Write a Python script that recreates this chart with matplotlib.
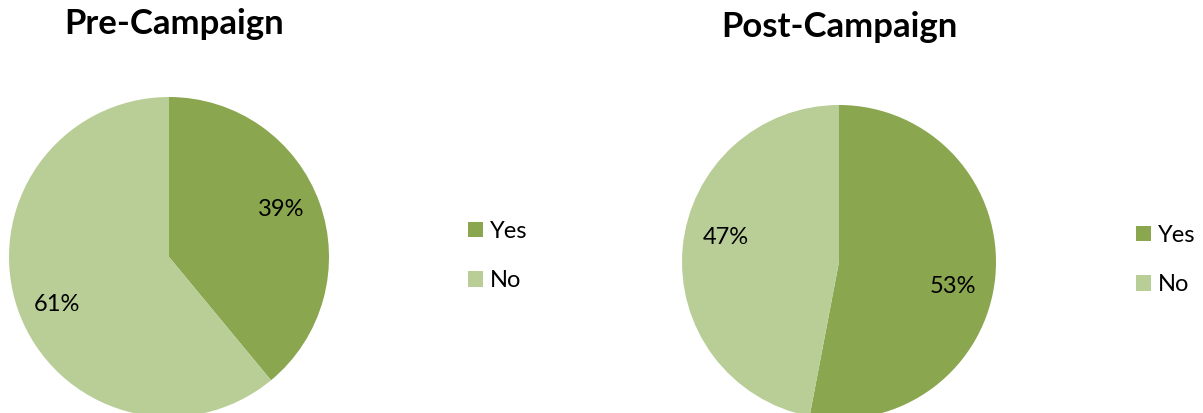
import matplotlib
matplotlib.use("Agg")
import matplotlib.pyplot as plt
import numpy as np

# ---- data ----
categories = ["Yes", "No"]
pre_values = [39, 61]
post_values = [53, 47]
titles = ["Pre-Campaign", "Post-Campaign"]

colors = ["#8AA64F", "#B9CE97"]

W, H = 1203, 413
plt.rcParams["font.family"] = ["Lato", "DejaVu Sans"]

fig = plt.figure(figsize=(W / 100, H / 100), dpi=100)
fig.patch.set_facecolor("white")


def px_axes(cx, cy, r):
    return fig.add_axes([(cx - r) / W, (H - (cy + r)) / H, 2 * r / W, 2 * r / H])


def draw(values, cx, cy, r, title, tx, ty, lx, ly, dist, shift):
    ax = px_axes(cx, cy, r)
    wedges, _, autotexts = ax.pie(
        values, colors=colors, startangle=90, counterclock=False,
        autopct="%1.0f%%", pctdistance=dist, radius=1,
        wedgeprops=dict(linewidth=0, edgecolor="none"),
        textprops=dict(fontsize=17, color="black"),
    )
    for w, t in zip(wedges, autotexts):
        ang = np.deg2rad((w.theta1 + w.theta2) / 2 + shift)
        t.set_position((dist * np.cos(ang), dist * np.sin(ang)))
    ax.set_xlim(-1, 1)
    ax.set_ylim(-1, 1)
    ax.set_aspect("auto")
    ax.axis("off")
    fig.text(tx / W, 1 - ty / H, title, ha="center", va="baseline",
             fontsize=25, fontweight="bold")
    fig.legend(wedges, categories, loc="center left",
               bbox_to_anchor=(lx / W, 1 - ly / H), bbox_transform=fig.transFigure,
               frameon=False, fontsize=17, handlelength=0.63, handleheight=0.63,
               handletextpad=0.3, labelspacing=1.21, borderpad=0, borderaxespad=0)


draw(pre_values, 169, 257, 160, titles[0], 174.5, 34, 468, 256, 0.76, 3.2)
draw(post_values, 839, 262, 157, titles[1], 839.5, 37, 1136, 260, 0.74, -7.0)

fig.savefig("out.png", dpi=100, facecolor="white")
